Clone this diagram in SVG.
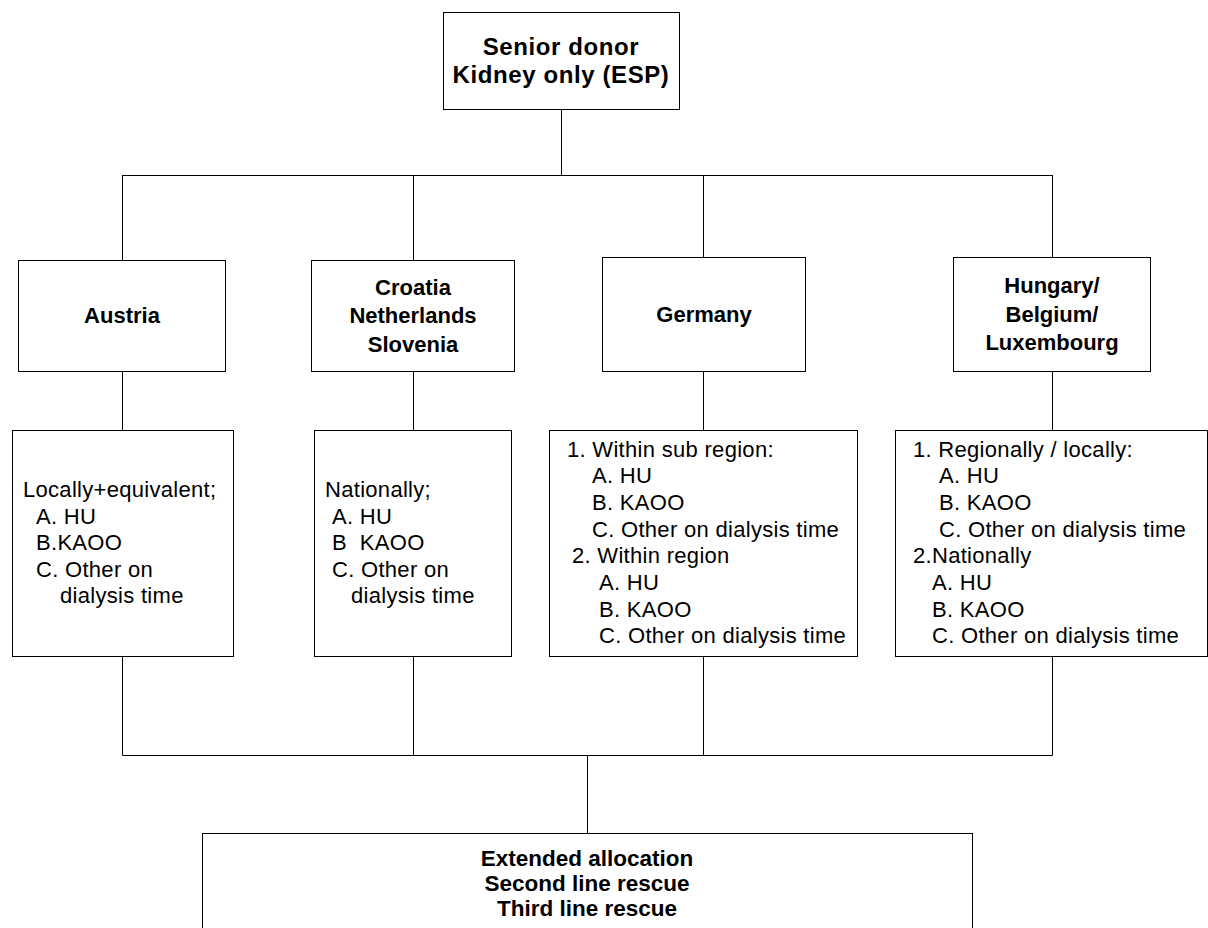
<svg xmlns="http://www.w3.org/2000/svg" width="1208" height="928" viewBox="0 0 1208 928">
<style>
rect{fill:#fff;stroke:#000;stroke-width:1}
.c line{stroke:#000;stroke-width:1}
text{font-family:"Liberation Sans",Arial,sans-serif;font-size:22px;fill:#000;letter-spacing:0.3px}
.b{font-weight:bold;text-anchor:middle;letter-spacing:0}
.t{font-size:24px;letter-spacing:0.6px}
.r{font-size:22.5px}
</style>
<rect x="0" y="0" width="1208" height="928" style="stroke:none"/>
<g class="c" id="connectors">
<line x1="561.5" y1="110" x2="561.5" y2="175.5"/>
<line x1="122.5" y1="175.5" x2="1052.5" y2="175.5"/>
<line x1="122.5" y1="175" x2="122.5" y2="260"/>
<line x1="413.5" y1="175" x2="413.5" y2="260"/>
<line x1="703.5" y1="175" x2="703.5" y2="257"/>
<line x1="1052.5" y1="175" x2="1052.5" y2="257"/>
<line x1="122.5" y1="372" x2="122.5" y2="430"/>
<line x1="413.5" y1="372" x2="413.5" y2="430"/>
<line x1="703.5" y1="372" x2="703.5" y2="430"/>
<line x1="1052.5" y1="372" x2="1052.5" y2="430"/>
<line x1="122.5" y1="657" x2="122.5" y2="755.5"/>
<line x1="413.5" y1="657" x2="413.5" y2="755.5"/>
<line x1="703.5" y1="657" x2="703.5" y2="755.5"/>
<line x1="1052.5" y1="657" x2="1052.5" y2="755.5"/>
<line x1="122.5" y1="755.5" x2="1052.5" y2="755.5"/>
<line x1="587.5" y1="755.5" x2="587.5" y2="833"/>
</g>
<g id="top">
<rect x="443.5" y="12.5" width="236" height="97"/>
<text class="b t" x="561" y="55">Senior donor</text>
<text class="b t" x="561" y="83">Kidney only (ESP)</text>
</g>
<g id="austria">
<rect x="18.5" y="260.5" width="207" height="111"/>
<text class="b" x="122" y="323">Austria</text>
</g>
<g id="croatia">
<rect x="311.5" y="260.5" width="203" height="111"/>
<text class="b" x="413" y="295">Croatia</text>
<text class="b" x="413" y="323">Netherlands</text>
<text class="b" x="413" y="352">Slovenia</text>
</g>
<g id="germany">
<rect x="602.5" y="257.5" width="203" height="114"/>
<text class="b" x="704" y="322">Germany</text>
</g>
<g id="hungary">
<rect x="953.5" y="257.5" width="197" height="114"/>
<text class="b" x="1052" y="293">Hungary/</text>
<text class="b" x="1052" y="322">Belgium/</text>
<text class="b" x="1052" y="350">Luxembourg</text>
</g>
<g id="austria-detail">
<rect x="12.5" y="430.5" width="221" height="226"/>
<text x="23" y="497">Locally+equivalent;</text>
<text x="36" y="524">A. HU</text>
<text x="36" y="550">B.KAOO</text>
<text x="36" y="577">C. Other on</text>
<text x="60" y="603">dialysis time</text>
</g>
<g id="croatia-detail">
<rect x="314.5" y="430.5" width="197" height="226"/>
<text x="325" y="497">Nationally;</text>
<text x="332" y="524">A. HU</text>
<text x="332" y="550" xml:space="preserve">B  KAOO</text>
<text x="332" y="577">C. Other on</text>
<text x="351" y="603">dialysis time</text>
</g>
<g id="germany-detail">
<rect x="549.5" y="430.5" width="308" height="226"/>
<text x="567" y="457">1. Within sub region:</text>
<text x="592" y="483">A. HU</text>
<text x="592" y="510">B. KAOO</text>
<text x="592" y="537">C. Other on dialysis time</text>
<text x="572" y="563">2. Within region</text>
<text x="599" y="590">A. HU</text>
<text x="599" y="617">B. KAOO</text>
<text x="599" y="643">C. Other on dialysis time</text>
</g>
<g id="hungary-detail">
<rect x="895.5" y="430.5" width="312" height="226"/>
<text x="913" y="457">1. Regionally / locally:</text>
<text x="939" y="483">A. HU</text>
<text x="939" y="510">B. KAOO</text>
<text x="939" y="537">C. Other on dialysis time</text>
<text x="913" y="563">2.Nationally</text>
<text x="932" y="590">A. HU</text>
<text x="932" y="617">B. KAOO</text>
<text x="932" y="643">C. Other on dialysis time</text>
</g>
<g id="rescue">
<rect x="202.5" y="833.5" width="770" height="110"/>
<text class="b r" x="587" y="866">Extended allocation</text>
<text class="b r" x="587" y="891">Second line rescue</text>
<text class="b r" x="587" y="916">Third line rescue</text>
</g>
</svg>
